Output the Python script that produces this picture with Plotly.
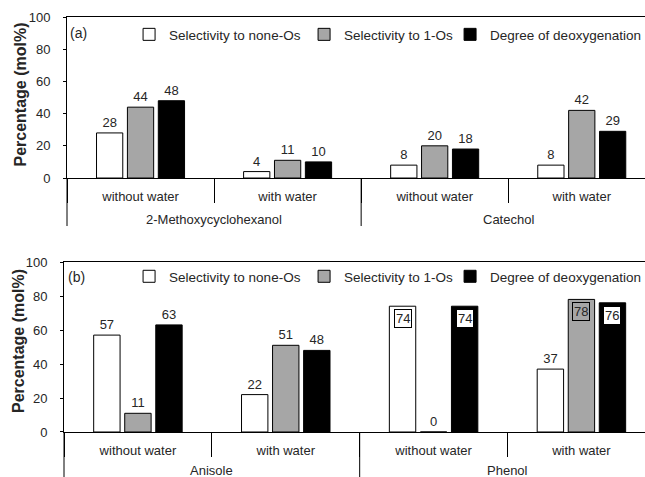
import plotly.graph_objects as go

# ---------------- data ----------------
series_names = ["Selectivity to none-Os", "Selectivity to 1-Os", "Degree of deoxygenation"]
conditions = ["without water", "with water"]

compounds_a = ["2-Methoxycyclohexanol", "Catechol"]
none_os_a = [28, 4, 8, 8]
one_os_a = [44, 11, 20, 42]
deox_a = [48, 10, 18, 29]

compounds_b = ["Anisole", "Phenol"]
none_os_b = [57, 22, 74, 37]
one_os_b = [11, 51, 0, 78]
deox_b = [63, 48, 74, 76]

y_ticks = [0, 20, 40, 60, 80, 100]
panel_labels = ["(a)", "(b)"]
y_title = "Percentage (mol%)"

# ---------------- style ----------------
colors = ["#ffffff", "#a6a6a6", "#000000"]
legend_widths = [130, 101, 150]
FONT = "Liberation Sans, Arial, sans-serif"
TXT = "#262626"
BARGAP = 0.37
BOX_THRESHOLD = 70          # labels of taller bars are drawn boxed inside the bar
X_RANGE = [-0.5, 3.43]      # right end of the chart is cut off as in the original
W, H = 645, 477
M = dict(l=64, r=0, t=17, b=45)
X_DOMAINS = [[3 / 581, 1.0], [0.0, 1.0]]
Y_DOMAINS = [[0.612, 1.0], [0.0, 0.4096]]
DIVIDER_PX = 48
OUTER_LABEL_PX = [41, 38]
TITLE_SHIFT_Y = [3, 6]
PANEL_LABEL_X = [0.0069, 0.0034]
PANEL_LABEL_Y = [0.985, 0.397]
LEGEND_Y = [0.995, 0.412]


def cat_keys(compounds):
    keys, texts = [], []
    for c in compounds:
        for cond in conditions:
            keys.append(c + "|" + cond)
            texts.append(cond)
    return keys, texts


fig = go.Figure()
annotations = []
shapes = []
plot_h = H - M["t"] - M["b"]

panels = [
    (compounds_a, [none_os_a, one_os_a, deox_a], "x", "y", "legend"),
    (compounds_b, [none_os_b, one_os_b, deox_b], "x2", "y2", "legend2"),
]

axes_layout = {}
for p, (compounds, values, xa, ya, lg) in enumerate(panels):
    keys, tick_texts = cat_keys(compounds)
    slot = (1 - BARGAP) / len(series_names)
    for i, (name, vals) in enumerate(zip(series_names, values)):
        texts = [("" if v > BOX_THRESHOLD else str(v)) for v in vals]
        fig.add_trace(go.Bar(
            x=keys, y=vals, name=name,
            marker=dict(color=colors[i], line=dict(color="#000000", width=1)),
            text=texts, textposition="outside",
            textfont=dict(family=FONT, size=13, color=TXT),
            cliponaxis=False, legendwidth=legend_widths[i],
            xaxis=xa, yaxis=ya, legend=lg,
        ))
        for k, v in enumerate(vals):
            if v > BOX_THRESHOLD:
                annotations.append(dict(
                    x=k + (i - 1) * slot, y=v, xref=xa, yref=ya,
                    text=str(v), showarrow=False, yanchor="top", yshift=-3,
                    font=dict(family=FONT, size=13, color=TXT),
                    bgcolor=("#ffffff" if colors[i] == "#000000" else "rgba(0,0,0,0)"),
                    bordercolor="#000000", borderwidth=1, borderpad=1,
                ))

    # outer (compound) labels and long dividers
    n = len(conditions)
    axis_px = plot_h * (Y_DOMAINS[p][1] - Y_DOMAINS[p][0])
    for g, comp in enumerate(compounds):
        annotations.append(dict(
            x=g * n + (n - 1) / 2, y=0, xref=xa, yref=ya + " domain",
            text=comp, showarrow=False, yanchor="middle", yshift=-OUTER_LABEL_PX[p],
            font=dict(family=FONT, size=13, color=TXT),
        ))
    for g in range(len(compounds) + 1):
        b = g * n - 0.5
        if X_RANGE[0] <= b <= X_RANGE[1]:
            fx = (b - X_RANGE[0]) / (X_RANGE[1] - X_RANGE[0])
            shapes.append(dict(
                type="line", xref=xa + " domain", yref=ya + " domain",
                x0=fx, x1=fx, y0=0, y1=-DIVIDER_PX / axis_px,
                line=dict(color="#000000", width=1),
            ))

    # y-axis title
    annotations.append(dict(
        x=0, y=0.5, xref=xa + " domain", yref=ya + " domain",
        text="<b>" + y_title + "</b>", textangle=-90, showarrow=False,
        xanchor="center", yanchor="middle", xshift=-46, yshift=TITLE_SHIFT_Y[p],
        font=dict(family=FONT, size=16, color=TXT),
    ))
    # panel label
    annotations.append(dict(
        x=PANEL_LABEL_X[p], y=PANEL_LABEL_Y[p], xref="paper", yref="paper",
        text=panel_labels[p], showarrow=False, xanchor="left", yanchor="top",
        font=dict(family=FONT, size=14, color=TXT),
    ))

    suffix = "" if p == 0 else "2"
    axes_layout["xaxis" + suffix] = dict(
        domain=X_DOMAINS[p], anchor=ya, type="category", range=X_RANGE, automargin=False,
        tickmode="array", tickvals=keys, ticktext=tick_texts,
        showline=True, linecolor="#000000", linewidth=1, mirror=True,
        ticks="outside", tickson="boundaries", ticklen=24, tickcolor="#000000", tickwidth=1,
        ticklabelstandoff=6,
        tickfont=dict(family=FONT, size=13, color=TXT),
        showgrid=False, zeroline=False,
    )
    axes_layout["yaxis" + suffix] = dict(
        domain=Y_DOMAINS[p], anchor=xa,
        range=[0, 100], tickvals=y_ticks, ticks="outside", ticklen=3, automargin=False,
        tickcolor="#000000", showline=True, linecolor="#000000", linewidth=1,
        ticklabelstandoff=10,
        showgrid=False, zeroline=False,
        tickfont=dict(family=FONT, size=13, color=TXT),
    )

legend_common = dict(
    orientation="h", xanchor="left", yanchor="top",
    font=dict(family=FONT, size=13.5, color=TXT),
    bgcolor="rgba(0,0,0,0)", itemwidth=30, tracegroupgap=0,
)

fig.update_layout(
    width=W, height=H,
    margin=dict(autoexpand=False, **M),
    paper_bgcolor="#ffffff", plot_bgcolor="#ffffff",
    barmode="group", bargap=BARGAP, bargroupgap=0.15,
    legend=dict(x=0.112, y=LEGEND_Y[0], **legend_common),
    legend2=dict(x=0.112, y=LEGEND_Y[1], **legend_common),
    annotations=annotations,
    shapes=shapes,
    font=dict(family=FONT, color=TXT),
    **axes_layout,
)

fig.write_html("out.html", config={"displayModeBar": False},
               post_script="document.body.style.margin='0';")
